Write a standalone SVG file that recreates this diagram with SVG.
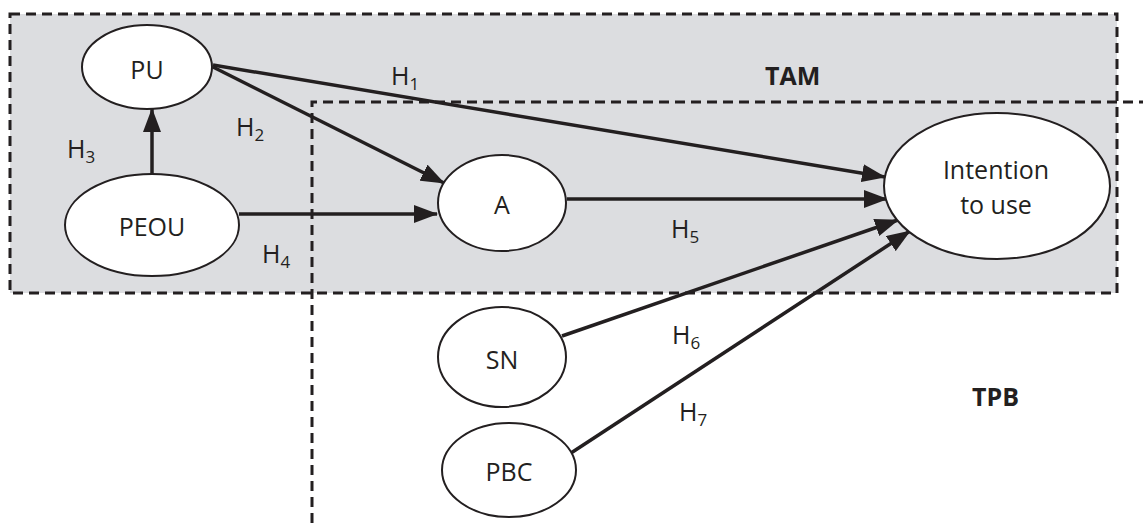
<svg xmlns="http://www.w3.org/2000/svg" width="1143" height="525" viewBox="0 0 1143 525">
<style>
.box{fill:none;stroke:#231f20;stroke-width:3;stroke-dasharray:10 6}
.node ellipse{fill:#fff;stroke:#231f20;stroke-width:2}
text{font-family:"Open Sans","Liberation Sans",sans-serif;fill:#231f20;font-size:25px}
.c{text-anchor:middle}
.b{font-weight:bold;font-size:25px}
.sub{font-size:17px}
.conn line{stroke:#231f20;stroke-width:3.5;marker-end:url(#ah)}
</style>
<defs>
<marker id="ah" markerUnits="userSpaceOnUse" markerWidth="24" markerHeight="18" refX="23" refY="9" orient="auto">
<path d="M0,0 L24,9 L0,18 z" fill="#231f20"/>
</marker>
</defs>
<rect width="1143" height="525" fill="#fff"/>
<rect x="10" y="14" width="1107" height="279" fill="#dcdde0"/>
<g id="tam-box">
<rect class="box" x="10" y="14" width="1107" height="279"/>
<text class="b" x="765" y="85">TAM</text>
</g>
<g id="tpb-box">
<path class="box" d="M312,523 L312,102 L1143,102"/>
<text class="b" x="972" y="406">TPB</text>
</g>
<g class="conn" id="connectors">
<line x1="213" y1="65" x2="885" y2="177"/>
<line x1="213" y1="67" x2="444" y2="183"/>
<line x1="152" y1="174" x2="152" y2="109"/>
<line x1="239" y1="214" x2="437" y2="214"/>
<line x1="567" y1="199" x2="887" y2="199"/>
<line x1="562" y1="336" x2="898" y2="220"/>
<line x1="571" y1="453" x2="910" y2="231"/>
</g>
<g id="labels">
<text x="391" y="85">H<tspan class="sub" dy="5">1</tspan></text>
<text x="236" y="136">H<tspan class="sub" dy="5">2</tspan></text>
<text x="67" y="158">H<tspan class="sub" dy="5">3</tspan></text>
<text x="262" y="263">H<tspan class="sub" dy="5">4</tspan></text>
<text x="671" y="238">H<tspan class="sub" dy="5">5</tspan></text>
<text x="672" y="344">H<tspan class="sub" dy="5">6</tspan></text>
<text x="679" y="421">H<tspan class="sub" dy="5">7</tspan></text>
</g>
<g class="node" id="PU">
<ellipse cx="147" cy="67" rx="65" ry="42"/>
<text class="c" x="147" y="79">PU</text>
</g>
<g class="node" id="PEOU">
<ellipse cx="152" cy="225" rx="87" ry="51"/>
<text class="c" x="152" y="236">PEOU</text>
</g>
<g class="node" id="A">
<ellipse cx="502" cy="203" rx="64" ry="48"/>
<text class="c" x="502" y="214">A</text>
</g>
<g class="node" id="Intention">
<ellipse cx="997" cy="186" rx="113" ry="73"/>
<text class="c" x="996" y="179">Intention</text>
<text class="c" x="996" y="214">to use</text>
</g>
<g class="node" id="SN">
<ellipse cx="502" cy="357" rx="64" ry="50"/>
<text class="c" x="502" y="369">SN</text>
</g>
<g class="node" id="PBC">
<ellipse cx="509" cy="470" rx="67" ry="47"/>
<text class="c" x="509" y="481">PBC</text>
</g>
</svg>
